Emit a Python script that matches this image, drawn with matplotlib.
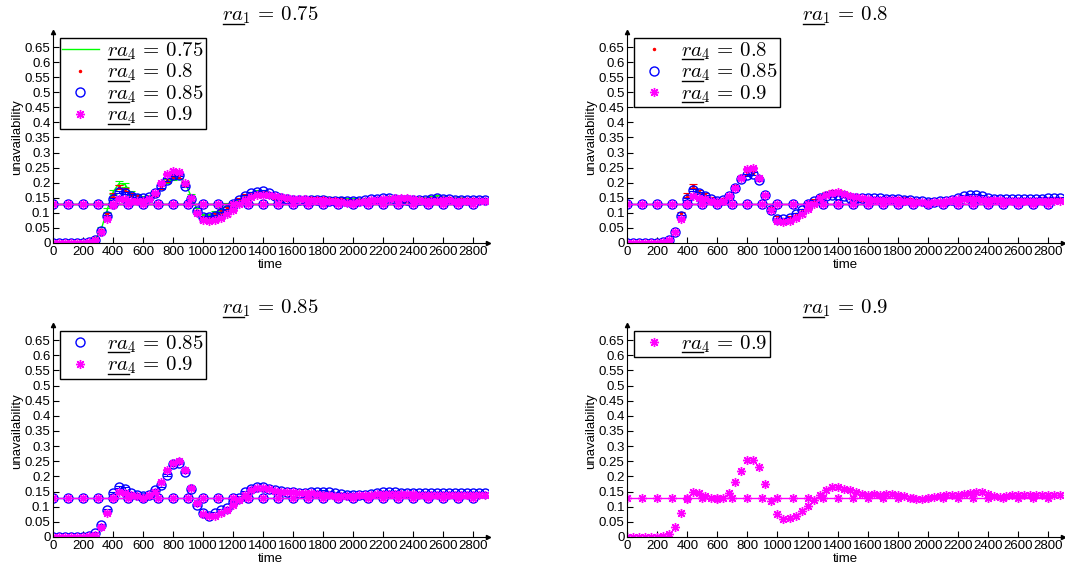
import matplotlib
matplotlib.use("Agg")
import matplotlib.pyplot as plt
from matplotlib.lines import Line2D
import numpy as np

plt.rcParams['font.family'] = ['Liberation Sans', 'DejaVu Sans']
plt.rcParams['mathtext.fontset'] = 'cm'

# sampling grid of the simulated runs (every 40 time units) and of the reference level
t = np.arange(0, 2881, 40)
t_ref = np.arange(0, 2801, 100)
ref_level = 0.128

# ra1 = 0.75 panel
tl_075 = [0, 0, 0, 0, 0, 0, 0.002, 0.012, 0.045, 0.110,
          0.170, 0.198, 0.193, 0.165, 0.155, 0.150, 0.152, 0.163, 0.185, 0.205,
          0.215, 0.218, 0.200, 0.155, 0.110, 0.090, 0.090, 0.100, 0.113, 0.125,
          0.133, 0.143, 0.155, 0.163, 0.168, 0.168, 0.160, 0.153, 0.149, 0.147,
          0.146, 0.146, 0.147, 0.148, 0.148, 0.148, 0.147, 0.146, 0.144, 0.142,
          0.141, 0.141, 0.142, 0.143, 0.145, 0.147, 0.148, 0.147, 0.145, 0.144,
          0.143, 0.144, 0.146, 0.150, 0.153, 0.150, 0.147, 0.145, 0.144, 0.143,
          0.143, 0.143, 0.143]
tl_08 = [0, 0, 0, 0, 0, 0, 0.002, 0.011, 0.042, 0.095,
         0.160, 0.185, 0.178, 0.160, 0.152, 0.148, 0.150, 0.163, 0.185, 0.208,
         0.220, 0.222, 0.195, 0.150, 0.105, 0.085, 0.085, 0.093, 0.103, 0.115,
         0.128, 0.143, 0.155, 0.163, 0.168, 0.168, 0.160, 0.153, 0.149, 0.146,
         0.145, 0.145, 0.145, 0.146, 0.146, 0.146, 0.145, 0.144, 0.142, 0.140,
         0.139, 0.139, 0.140, 0.142, 0.144, 0.146, 0.147, 0.146, 0.144, 0.143,
         0.142, 0.143, 0.144, 0.146, 0.148, 0.147, 0.145, 0.144, 0.143, 0.142,
         0.142, 0.143, 0.143]
tl_085 = [0, 0, 0, 0, 0, 0, 0.002, 0.010, 0.040, 0.090,
          0.145, 0.170, 0.165, 0.157, 0.150, 0.148, 0.152, 0.165, 0.188, 0.210,
          0.225, 0.225, 0.190, 0.145, 0.105, 0.085, 0.085, 0.090, 0.098, 0.110,
          0.125, 0.142, 0.155, 0.165, 0.170, 0.172, 0.166, 0.156, 0.150, 0.146,
          0.144, 0.143, 0.142, 0.142, 0.142, 0.141, 0.140, 0.140, 0.139, 0.138,
          0.138, 0.140, 0.143, 0.145, 0.147, 0.150, 0.148, 0.145, 0.143, 0.142,
          0.141, 0.141, 0.142, 0.145, 0.148, 0.147, 0.145, 0.144, 0.143, 0.143,
          0.143, 0.144, 0.144]
tl_09 = [0, 0, 0, 0, 0, 0, 0.002, 0.010, 0.035, 0.080,
         0.125, 0.145, 0.145, 0.140, 0.138, 0.140, 0.145, 0.165, 0.198, 0.228,
         0.240, 0.235, 0.200, 0.148, 0.100, 0.075, 0.072, 0.075, 0.083, 0.095,
         0.110, 0.128, 0.143, 0.153, 0.158, 0.160, 0.158, 0.155, 0.152, 0.149,
         0.147, 0.146, 0.145, 0.144, 0.143, 0.142, 0.140, 0.138, 0.136, 0.134,
         0.134, 0.136, 0.139, 0.141, 0.143, 0.145, 0.147, 0.148, 0.149, 0.148,
         0.146, 0.143, 0.140, 0.139, 0.140, 0.141, 0.141, 0.140, 0.140, 0.140,
         0.140, 0.140, 0.140]

# ra1 = 0.8 panel
tr_08 = [0, 0, 0, 0, 0, 0, 0.002, 0.010, 0.037, 0.098,
         0.160, 0.190, 0.170, 0.160, 0.148, 0.140, 0.143, 0.155, 0.185, 0.215,
         0.230, 0.232, 0.210, 0.158, 0.112, 0.082, 0.078, 0.083, 0.095, 0.108,
         0.125, 0.140, 0.152, 0.163, 0.170, 0.170, 0.163, 0.155, 0.150, 0.146,
         0.145, 0.144, 0.144, 0.145, 0.146, 0.146, 0.145, 0.143, 0.140, 0.138,
         0.136, 0.135, 0.136, 0.138, 0.141, 0.145, 0.148, 0.150, 0.150, 0.148,
         0.146, 0.144, 0.142, 0.141, 0.140, 0.140, 0.140, 0.140, 0.141, 0.141,
         0.142, 0.142, 0.142]
tr_085 = [0, 0, 0, 0, 0, 0, 0.002, 0.010, 0.035, 0.088,
          0.145, 0.175, 0.165, 0.155, 0.145, 0.140, 0.143, 0.155, 0.183, 0.212,
          0.225, 0.230, 0.210, 0.158, 0.110, 0.080, 0.078, 0.083, 0.095, 0.110,
          0.127, 0.140, 0.148, 0.155, 0.158, 0.160, 0.155, 0.150, 0.150, 0.150,
          0.149, 0.148, 0.148, 0.147, 0.147, 0.146, 0.144, 0.142, 0.140, 0.138,
          0.137, 0.137, 0.138, 0.140, 0.144, 0.150, 0.155, 0.158, 0.160, 0.155,
          0.150, 0.146, 0.145, 0.145, 0.146, 0.146, 0.145, 0.145, 0.146, 0.147,
          0.148, 0.148, 0.148]
tr_09 = [0, 0, 0, 0, 0, 0, 0.002, 0.010, 0.035, 0.080,
         0.128, 0.155, 0.150, 0.145, 0.140, 0.135, 0.140, 0.155, 0.182, 0.215,
         0.245, 0.248, 0.215, 0.160, 0.108, 0.072, 0.068, 0.072, 0.082, 0.095,
         0.112, 0.130, 0.148, 0.160, 0.167, 0.168, 0.163, 0.157, 0.152, 0.148,
         0.145, 0.144, 0.143, 0.143, 0.142, 0.141, 0.140, 0.139, 0.137, 0.135,
         0.134, 0.135, 0.137, 0.140, 0.143, 0.146, 0.147, 0.146, 0.145, 0.144,
         0.143, 0.142, 0.141, 0.140, 0.140, 0.139, 0.139, 0.139, 0.140, 0.140,
         0.140, 0.140, 0.140]

# ra1 = 0.85 panel
bl_085 = [0, 0, 0, 0, 0, 0, 0.002, 0.012, 0.038, 0.090,
          0.145, 0.165, 0.160, 0.145, 0.140, 0.135, 0.140, 0.155, 0.170, 0.205,
          0.240, 0.245, 0.215, 0.160, 0.105, 0.080, 0.070, 0.080, 0.088, 0.095,
          0.115, 0.130, 0.148, 0.160, 0.165, 0.165, 0.158, 0.155, 0.152, 0.149,
          0.147, 0.146, 0.146, 0.147, 0.148, 0.150, 0.148, 0.145, 0.142, 0.140,
          0.138, 0.138, 0.139, 0.141, 0.144, 0.147, 0.148, 0.147, 0.146, 0.145,
          0.145, 0.145, 0.145, 0.145, 0.145, 0.145, 0.144, 0.144, 0.144, 0.144,
          0.144, 0.144, 0.144]
bl_09 = [0, 0, 0, 0, 0, 0, 0.002, 0.008, 0.032, 0.080,
         0.128, 0.150, 0.145, 0.140, 0.135, 0.130, 0.138, 0.150, 0.180, 0.220,
         0.245, 0.250, 0.222, 0.162, 0.112, 0.075, 0.068, 0.070, 0.078, 0.090,
         0.105, 0.123, 0.140, 0.155, 0.163, 0.163, 0.158, 0.153, 0.150, 0.148,
         0.147, 0.146, 0.145, 0.144, 0.142, 0.140, 0.138, 0.136, 0.134, 0.134,
         0.135, 0.137, 0.139, 0.140, 0.141, 0.142, 0.143, 0.143, 0.143, 0.142,
         0.141, 0.140, 0.140, 0.140, 0.140, 0.140, 0.140, 0.140, 0.140, 0.140,
         0.140, 0.140, 0.140]

# ra1 = 0.9 panel
br_09 = [0, 0, 0, 0, 0, 0, 0.002, 0.010, 0.033, 0.078,
         0.125, 0.148, 0.145, 0.135, 0.130, 0.126, 0.130, 0.145, 0.180, 0.217,
         0.255, 0.255, 0.230, 0.175, 0.118, 0.075, 0.060, 0.063, 0.070, 0.085,
         0.103, 0.122, 0.140, 0.155, 0.165, 0.165, 0.160, 0.155, 0.150, 0.143,
         0.140, 0.141, 0.140, 0.141, 0.143, 0.140, 0.134, 0.130, 0.127, 0.125,
         0.130, 0.133, 0.135, 0.137, 0.138, 0.140, 0.143, 0.146, 0.148, 0.147,
         0.142, 0.136, 0.131, 0.134, 0.137, 0.138, 0.139, 0.140, 0.140, 0.139,
         0.139, 0.138, 0.138]

# half-widths of the confidence bars
err_075 = 0.007
err_08 = 0.006
err_085 = 0.004
err_09 = 0.004

ra1_values = ['0.75', '0.8', '0.85', '0.9']

panels = [
    [('0.75', tl_075, err_075), ('0.8', tl_08, err_08), ('0.85', tl_085, err_085), ('0.9', tl_09, err_09)],
    [('0.8', tr_08, err_08), ('0.85', tr_085, err_085), ('0.9', tr_09, err_09)],
    [('0.85', bl_085, err_085), ('0.9', bl_09, err_09)],
    [('0.9', br_09, None)],
]

styles = {
    '0.75': dict(color='#00ff00', marker='None', ls='-', ms=0),
    '0.8': dict(color='#ff0000', marker='.', ls='None', ms=3),
    '0.85': dict(color='#0000ff', marker='o', ls='None', ms=6.5),
    '0.9': dict(color='#ff00ff', marker=(8, 2, 0), ls='None', ms=6.5),
}

positions = [
    [0.050, 0.5767, 0.408, 0.3676],
    [0.589, 0.5767, 0.409, 0.3676],
    [0.050, 0.0645, 0.408, 0.3693],
    [0.589, 0.0645, 0.409, 0.3693],
]

fig = plt.figure(figsize=(10.65, 5.74), dpi=100)
underlined = []

for k in range(4):
    ax = fig.add_axes(positions[k])
    handles = []
    for lab, vals, err in panels[k]:
        st = styles[lab]
        face = 'none' if lab == '0.85' else st['color']
        # constant reference level
        ax.plot(t_ref, [ref_level] * len(t_ref), color=st['color'], lw=1,
                marker=st['marker'], ms=st['ms'], mfc=face, mew=1)
        if err is not None:
            ax.errorbar(t, vals, yerr=err, fmt='none', ecolor=st['color'],
                        elinewidth=0.8, capsize=3, capthick=0.8)
        h, = ax.plot(t, vals, color=st['color'], ls=st['ls'], lw=1,
                     marker=st['marker'], ms=st['ms'], mfc=face, mew=1,
                     label=r'$ra_4\,=\,%s$' % lab)
        handles.append(h)

    ax.set_xlim(0, 2900)
    ax.set_ylim(0, 0.7)
    ax.set_xticks(np.arange(0, 2801, 200))
    ax.set_yticks(np.arange(0, 0.651, 0.05))
    ax.set_yticklabels(['%g' % round(v, 2) for v in np.arange(0, 0.651, 0.05)])
    ax.tick_params(direction='in', length=4, labelsize=9.5, pad=2)
    for s in ['top', 'right']:
        ax.spines[s].set_visible(False)
    ax.plot(1, 0, '>k', ms=3, transform=ax.transAxes, clip_on=False)
    ax.plot(0, 1, '^k', ms=3, transform=ax.transAxes, clip_on=False)
    ax.set_xlabel('time', fontsize=9.5, labelpad=1)
    ax.set_ylabel('unavailability', fontsize=9.5, labelpad=1)
    ttl = ax.set_title(r'$ra_1\,=\,%s$' % ra1_values[k], fontsize=15, pad=8)
    leg = ax.legend(handles=handles, loc='upper left', fontsize=15,
                    fancybox=False, framealpha=1, edgecolor='black',
                    borderaxespad=0.3, handletextpad=0.4, labelspacing=0.0,
                    borderpad=0.1, handlelength=1.8)
    leg.get_frame().set_linewidth(1)
    underlined.append(ttl)
    underlined.extend(leg.get_texts())

# mathtext has no \underline: draw the bar under "ra" by hand
fig.canvas.draw()
renderer = fig.canvas.get_renderer()
W, H = fig.bbox.width, fig.bbox.height
for txt in underlined:
    bb = txt.get_window_extent(renderer)
    prop = txt.get_fontproperties()
    _, _, d = renderer.get_text_width_height_descent(txt.get_text(), prop, ismath=True)
    w_ra, _, _ = renderer.get_text_width_height_descent('$ra$', prop, ismath=True)
    base = bb.y0 + d
    y = base - 0.13 * prop.get_size_in_points() * fig.dpi / 72
    x0 = bb.x0 + 1
    x1 = bb.x0 + w_ra
    fig.add_artist(Line2D([x0 / W, x1 / W], [y / H, y / H], color='black', lw=1,
                          transform=fig.transFigure))

plt.savefig('out.png', dpi=100)
